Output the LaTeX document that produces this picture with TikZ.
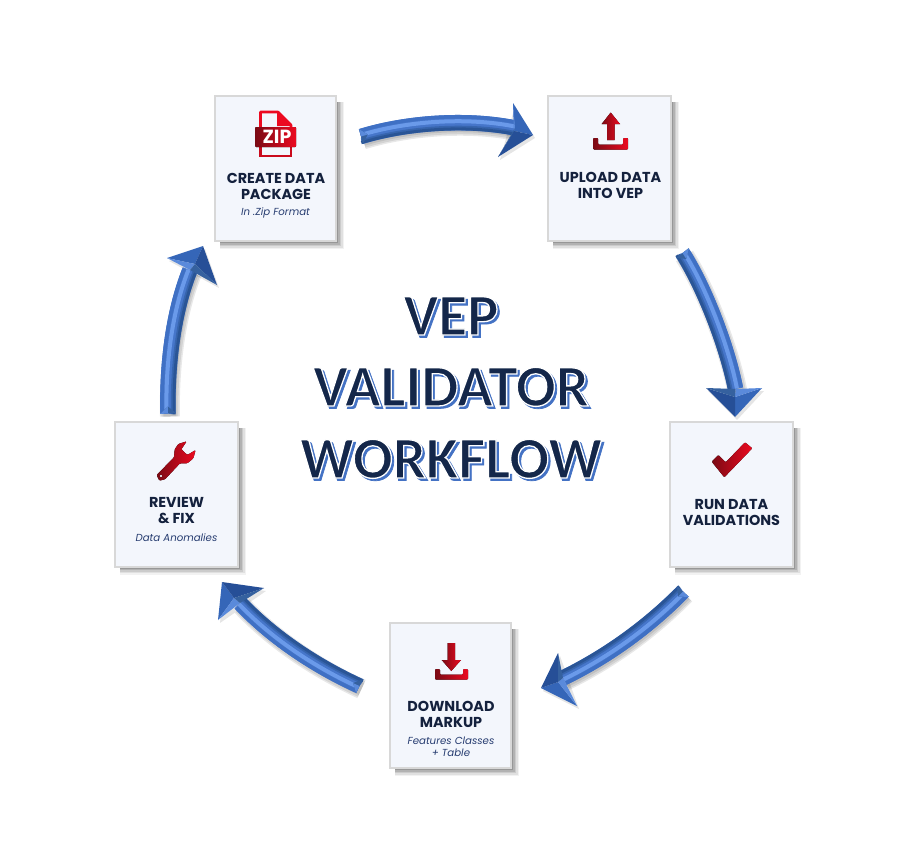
\documentclass[tikz,border=0pt]{standalone}
\usepackage{fontspec}
\usetikzlibrary{calc,backgrounds}
\setmainfont{Poppins}
\newfontfamily\titlefont{Carlito}[BoldFont={Carlito Bold}]
\newfontfamily\titlefat{Carlito Bold}[FakeBold=1.2]
\newcommand{\outlined}[1]{\special{pdf:code q 2 Tr 1.3 w 1 1 1 RG}#1\special{pdf:code Q}}
\definecolor{navy}{HTML}{14213D}
\definecolor{subblue}{HTML}{263C70}
\definecolor{titledark}{HTML}{14274A}
\definecolor{titleblue}{HTML}{4472C4}
\definecolor{boxfill}{HTML}{F3F6FC}
\definecolor{boxline}{HTML}{D8D8D8}
\definecolor{iconA}{HTML}{7A0A14}
\definecolor{iconB}{HTML}{EC0A20}
\definecolor{bodyB}{HTML}{4676CA}
\definecolor{bodyD}{HTML}{2A5596}
\definecolor{bodyM}{HTML}{3765AE}
\definecolor{bodyL}{HTML}{6A9AEA}
\definecolor{bodyO}{HTML}{3F70C4}
\definecolor{faceA}{HTML}{3566B8}
\definecolor{faceB}{HTML}{264F97}
\definecolor{faceC}{HTML}{5A8ADB}
\definecolor{faceD}{HTML}{35619F}
\tikzset{
  cardbox/.style={draw=boxline,fill=boxfill,line width=2pt,inner sep=0pt,outer sep=0pt,minimum height=145pt},
  cardtitle/.style={font=\fontsize{14.4}{16}\selectfont\bfseries,text=navy,align=center,inner sep=0pt},
  cardsub/.style={font=\fontsize{10.2}{12}\selectfont\itshape,text=subblue,align=center,inner sep=0pt},
  icon/.style={left color=iconA,right color=iconB,draw=none},
  bigtitle/.style={anchor=base,inner sep=0pt,font=\fontsize{59}{59}\selectfont},
}
\newcommand{\cardshadow}[1]{%
  \fill[black,opacity=.05] ($(#1.north west)+(5,6)$) rectangle ($(#1.south east)+(8,8)$);
  \fill[black,opacity=.07] ($(#1.north west)+(5,6)$) rectangle ($(#1.south east)+(6.5,6.5)$);
  \fill[black,opacity=.09] ($(#1.north west)+(5,6)$) rectangle ($(#1.south east)+(5,5)$);
  \fill[black,opacity=.12] ($(#1.north west)+(5,6)$) rectangle ($(#1.south east)+(3.5,3.5)$);
  \fill[black,opacity=.15] ($(#1.north west)+(5,6)$) rectangle ($(#1.south east)+(2,2)$);
}
\newcommand{\curvestroke}[4]{%
  \draw[line width=#3pt,draw=#4,line cap=butt] ($(#1t)+{#2}*(#1d)$) .. controls ($(#1a)+{#2}*(#1d)$) and ($(#1b)+{#2}*(#1d)$) .. ($(#1n)+{#2}*(#1d)$);
}
\newcommand{\curveshadow}[2]{%
  \draw[line width=#2pt,black,opacity=.09,line cap=butt] ($(#1t)+(2,3)$) .. controls ($(#1a)+(2,3)$) and ($(#1b)+(2,3)$) .. ($(#1n)+(2,3)$);
}
\newcommand{\blockarrow}[1]{%
  \coordinate (#1d) at ($(#1t)!1pt!-90:(#1n)-(#1t)$);
  \coordinate (#1p) at ($(#1t)!7pt!(#1a)$);
  \curveshadow{#1}{20}\curveshadow{#1}{17}\curveshadow{#1}{13}
  \fill[black,opacity=.10] ($(#1w)+(2,3)$) -- ($(#1i)+(2,3)$) -- ($(#1h)+(2,3)$) -- cycle;
  \curvestroke{#1}{0}{15.5}{bodyB}
  \curvestroke{#1}{-6}{3.5}{bodyO}
  \curvestroke{#1}{-1.5}{4}{bodyL}
  \curvestroke{#1}{2.5}{2.5}{bodyB}
  \curvestroke{#1}{4}{2}{bodyM}
  \curvestroke{#1}{6.2}{3}{bodyD}
  \fill[faceD] (#1e) -- (#1f) -- (#1p) -- cycle;
  \fill[faceC] (#1e) -- (#1p) -- ($(#1e)!.5!(#1f)$) -- cycle;
  \fill[faceA] (#1w) -- (#1h) -- (#1c) -- cycle;
  \fill[faceB] (#1i) -- (#1h) -- (#1c) -- cycle;
  \fill[faceC] (#1w) -- (#1c) -- (#1n) -- cycle;
  \fill[faceD] (#1i) -- (#1c) -- (#1n) -- cycle;
}
\begin{document}
\begin{tikzpicture}[x=1pt,y=-1pt]
\useasboundingbox (0,0) rectangle (907,867);

% cards
\node[cardbox,minimum width=121pt] (create) at (275.5,168.5) {};
\node[cardbox,minimum width=123pt] (upload) at (609.5,168.5) {};
\node[cardbox,minimum width=123pt] (run) at (731.5,494) {};
\node[cardbox,minimum width=121pt] (download) at (450.5,695.5) {};
\node[cardbox,minimum width=123pt] (review) at (176.5,494) {};
\begin{pgfonlayer}{background}
\fill[white] (0,0) rectangle (907,867);
\cardshadow{create}\cardshadow{upload}\cardshadow{run}\cardshadow{download}\cardshadow{review}
\end{pgfonlayer}

% card texts
\node[cardtitle] (t1) at (276,186) {CREATE DATA\\PACKAGE};
\node[cardsub] (s1) at (275.5,212.5) {In .Zip Format};
\node[cardtitle] (t2) at (610.5,185) {UPLOAD DATA\\INTO VEP};
\node[cardtitle] (t3) at (731.5,512) {RUN DATA\\VALIDATIONS};
\node[cardtitle] (t4) at (451,714) {DOWNLOAD\\MARKUP};
\node[cardsub] (s4) at (451,747) {Features Classes\\+ Table};
\node[cardtitle] (t5) at (176.5,511) {REVIEW\\\& FIX};
\node[cardsub] (s5) at (176.5,537.5) {Data Anomalies};

% zip icon
\draw[draw=iconB,line width=2.6pt,line join=round] (260.5,127) -- (260.5,112) -- (278,112) -- (291,125) -- (291,127);
\draw[draw=iconB!70!iconA,line width=2.6pt] (260.5,147) -- (260.5,156) -- (291,156) -- (291,147);
\fill[iconB] (277,111) -- (292,126) -- (277,126) -- cycle;
\fill[icon,rounded corners=1pt] (255,127) rectangle (296,147);
\node[font=\fontsize{19}{19}\selectfont\bfseries,text=white,inner sep=0pt] (ziplabel) at (277,137) {ZIP};

% upload icon
\fill[icon] (610.7,112.5) -- (620,124) -- (614.5,124) -- (614.5,140) -- (607,140) -- (607,124) -- (601.7,124) -- cycle;
\fill[icon,rounded corners=1pt] (593,138) -- (598,138) -- (598,144.5) -- (623,144.5) -- (623,138) -- (628,138) -- (628,149.5) -- (593,149.5) -- cycle;

% check icon
\fill[icon,rounded corners=1pt] (711.7,461.7) -- (718.3,455) -- (725.7,462.3) -- (745,442.3) -- (752.3,448.3) -- (724.3,477.3) -- cycle;

% download icon
\fill[icon] (451.3,671) -- (461,660) -- (455,660) -- (455,643) -- (447.7,643) -- (447.7,660) -- (441.7,660) -- cycle;
\fill[icon,rounded corners=1pt] (435,669) -- (440,669) -- (440,674.5) -- (463,674.5) -- (463,669) -- (468,669) -- (468,679.5) -- (435,679.5) -- cycle;

% wrench icon
\begin{scope}[shift={(100,410)},x=.3333pt,y=-.3333pt]
\fill[icon,rounded corners=1pt,even odd rule] (170,195) -- (222,142) -- (224,118) -- (235,102) -- (260,94) -- (244,118) -- (262,135) -- (287,120) -- (280,145) -- (262,160) -- (240,160) -- (195,208) -- (178,212) -- cycle (183,198) circle[radius=5];
\end{scope}

% arrows
\coordinate (At) at (361,136.5); \coordinate (Aa) at (405,123); \coordinate (Ab) at (465,118); \coordinate (An) at (515,128);
\coordinate (Ae) at (359,129); \coordinate (Af) at (363,144);
\coordinate (Aw) at (513,103); \coordinate (Ai) at (498,157); \coordinate (Ah) at (533,135); \coordinate (Ac) at (514,131);
\blockarrow{A}

\coordinate (Bt) at (682.5,253); \coordinate (Ba) at (706,290); \coordinate (Bb) at (728,350); \coordinate (Bn) at (735.5,389);
\coordinate (Be) at (689,248); \coordinate (Bf) at (676,258);
\coordinate (Bw) at (762,388); \coordinate (Bi) at (706,388); \coordinate (Bh) at (735,417); \coordinate (Bc) at (735,397);
\blockarrow{B}

\coordinate (Ct) at (683,591.5); \coordinate (Ca) at (650,625); \coordinate (Cb) at (610,655); \coordinate (Cn) at (563,678);
\coordinate (Ce) at (689,597); \coordinate (Cf) at (677,586);
\coordinate (Cw) at (577,706); \coordinate (Ci) at (558,653); \coordinate (Ch) at (541,688); \coordinate (Cc) at (558,682);
\blockarrow{C}

\coordinate (Dt) at (359.5,686); \coordinate (Da) at (320,668); \coordinate (Db) at (275,640); \coordinate (Dn) at (240,603);
\coordinate (De) at (356,693); \coordinate (Df) at (363,679);
\coordinate (Dw) at (218,620); \coordinate (Di) at (264,588); \coordinate (Dh) at (222,582); \coordinate (Dc) at (234,598);
\blockarrow{D}

\coordinate (Et) at (168,413.5); \coordinate (Ea) at (167,370); \coordinate (Eb) at (172,315); \coordinate (En) at (190,270);
\coordinate (Ee) at (160,414); \coordinate (Ef) at (176,413);
\coordinate (Ew) at (167,258); \coordinate (Ei) at (217,285); \coordinate (Eh) at (203,246); \coordinate (Ec) at (195,264);
\blockarrow{E}

% title
\foreach \nm/\txt/\bx/\by in {vep/VEP/451/335,val/VALIDATOR/451/406,wrk/WORKFLOW/451/478}{
  \node[bigtitle,text=titleblue] (\nm s) at (\bx+2.4,\by+2.4) {\titlefat \txt};
  \node[bigtitle,text=titledark] (\nm) at (\bx,\by) {\titlefont\bfseries \outlined{\txt}};
}
\end{tikzpicture}
\end{document}
